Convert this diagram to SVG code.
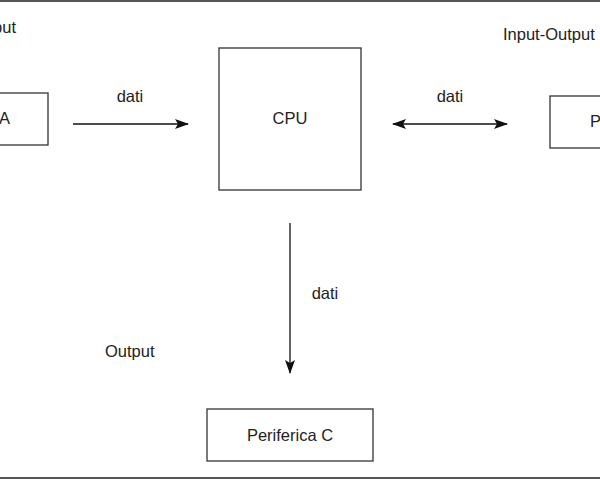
<svg xmlns="http://www.w3.org/2000/svg" width="600" height="480" viewBox="0 0 600 480">
<defs>
<marker id="ah" markerWidth="14" markerHeight="10" refX="13" refY="5" orient="auto-start-reverse" markerUnits="userSpaceOnUse"><path d="M0,0 L14,5 L0,10 L3,5 Z" fill="#111"/></marker>
</defs>
<style>
.b{fill:#fff;stroke:#333;stroke-width:1.3}
text{font-family:"Liberation Sans",Arial,sans-serif;font-size:16.5px;fill:#222}
.c{stroke:#111;stroke-width:1.3;fill:none}
</style>
<rect width="600" height="480" fill="#fff"/>
<line x1="0" y1="1" x2="600" y2="1" stroke="#555" stroke-width="2"/>
<line x1="0" y1="478" x2="600" y2="478" stroke="#555" stroke-width="2"/>
<g id="nodeA"><rect class="b" x="-80" y="93" width="128" height="52"/><text x="10" y="124" text-anchor="end">Periferica A</text></g>
<g id="cpu"><rect class="b" x="219" y="48" width="142" height="142"/><text x="290" y="124" text-anchor="middle">CPU</text></g>
<g id="nodeB"><rect class="b" x="550" y="96" width="128" height="52"/><text x="590" y="127">Periferica B</text></g>
<g id="nodeC"><rect class="b" x="207" y="409" width="166" height="52"/><text x="290" y="441" text-anchor="middle">Periferica C</text></g>
<g id="labels">
<text x="16" y="33" text-anchor="end">Input</text>
<text x="503" y="40">Input-Output</text>
<text x="105" y="357">Output</text>
</g>
<g id="connectors">
<line class="c" x1="73" y1="124" x2="188" y2="124" marker-end="url(#ah)"/>
<line class="c" x1="393" y1="124" x2="507" y2="124" marker-start="url(#ah)" marker-end="url(#ah)"/>
<line class="c" x1="290" y1="223" x2="290" y2="373" marker-end="url(#ah)"/>
<text x="130" y="102" text-anchor="middle">dati</text>
<text x="450" y="102" text-anchor="middle">dati</text>
<text x="325" y="299" text-anchor="middle">dati</text>
</g>
</svg>
